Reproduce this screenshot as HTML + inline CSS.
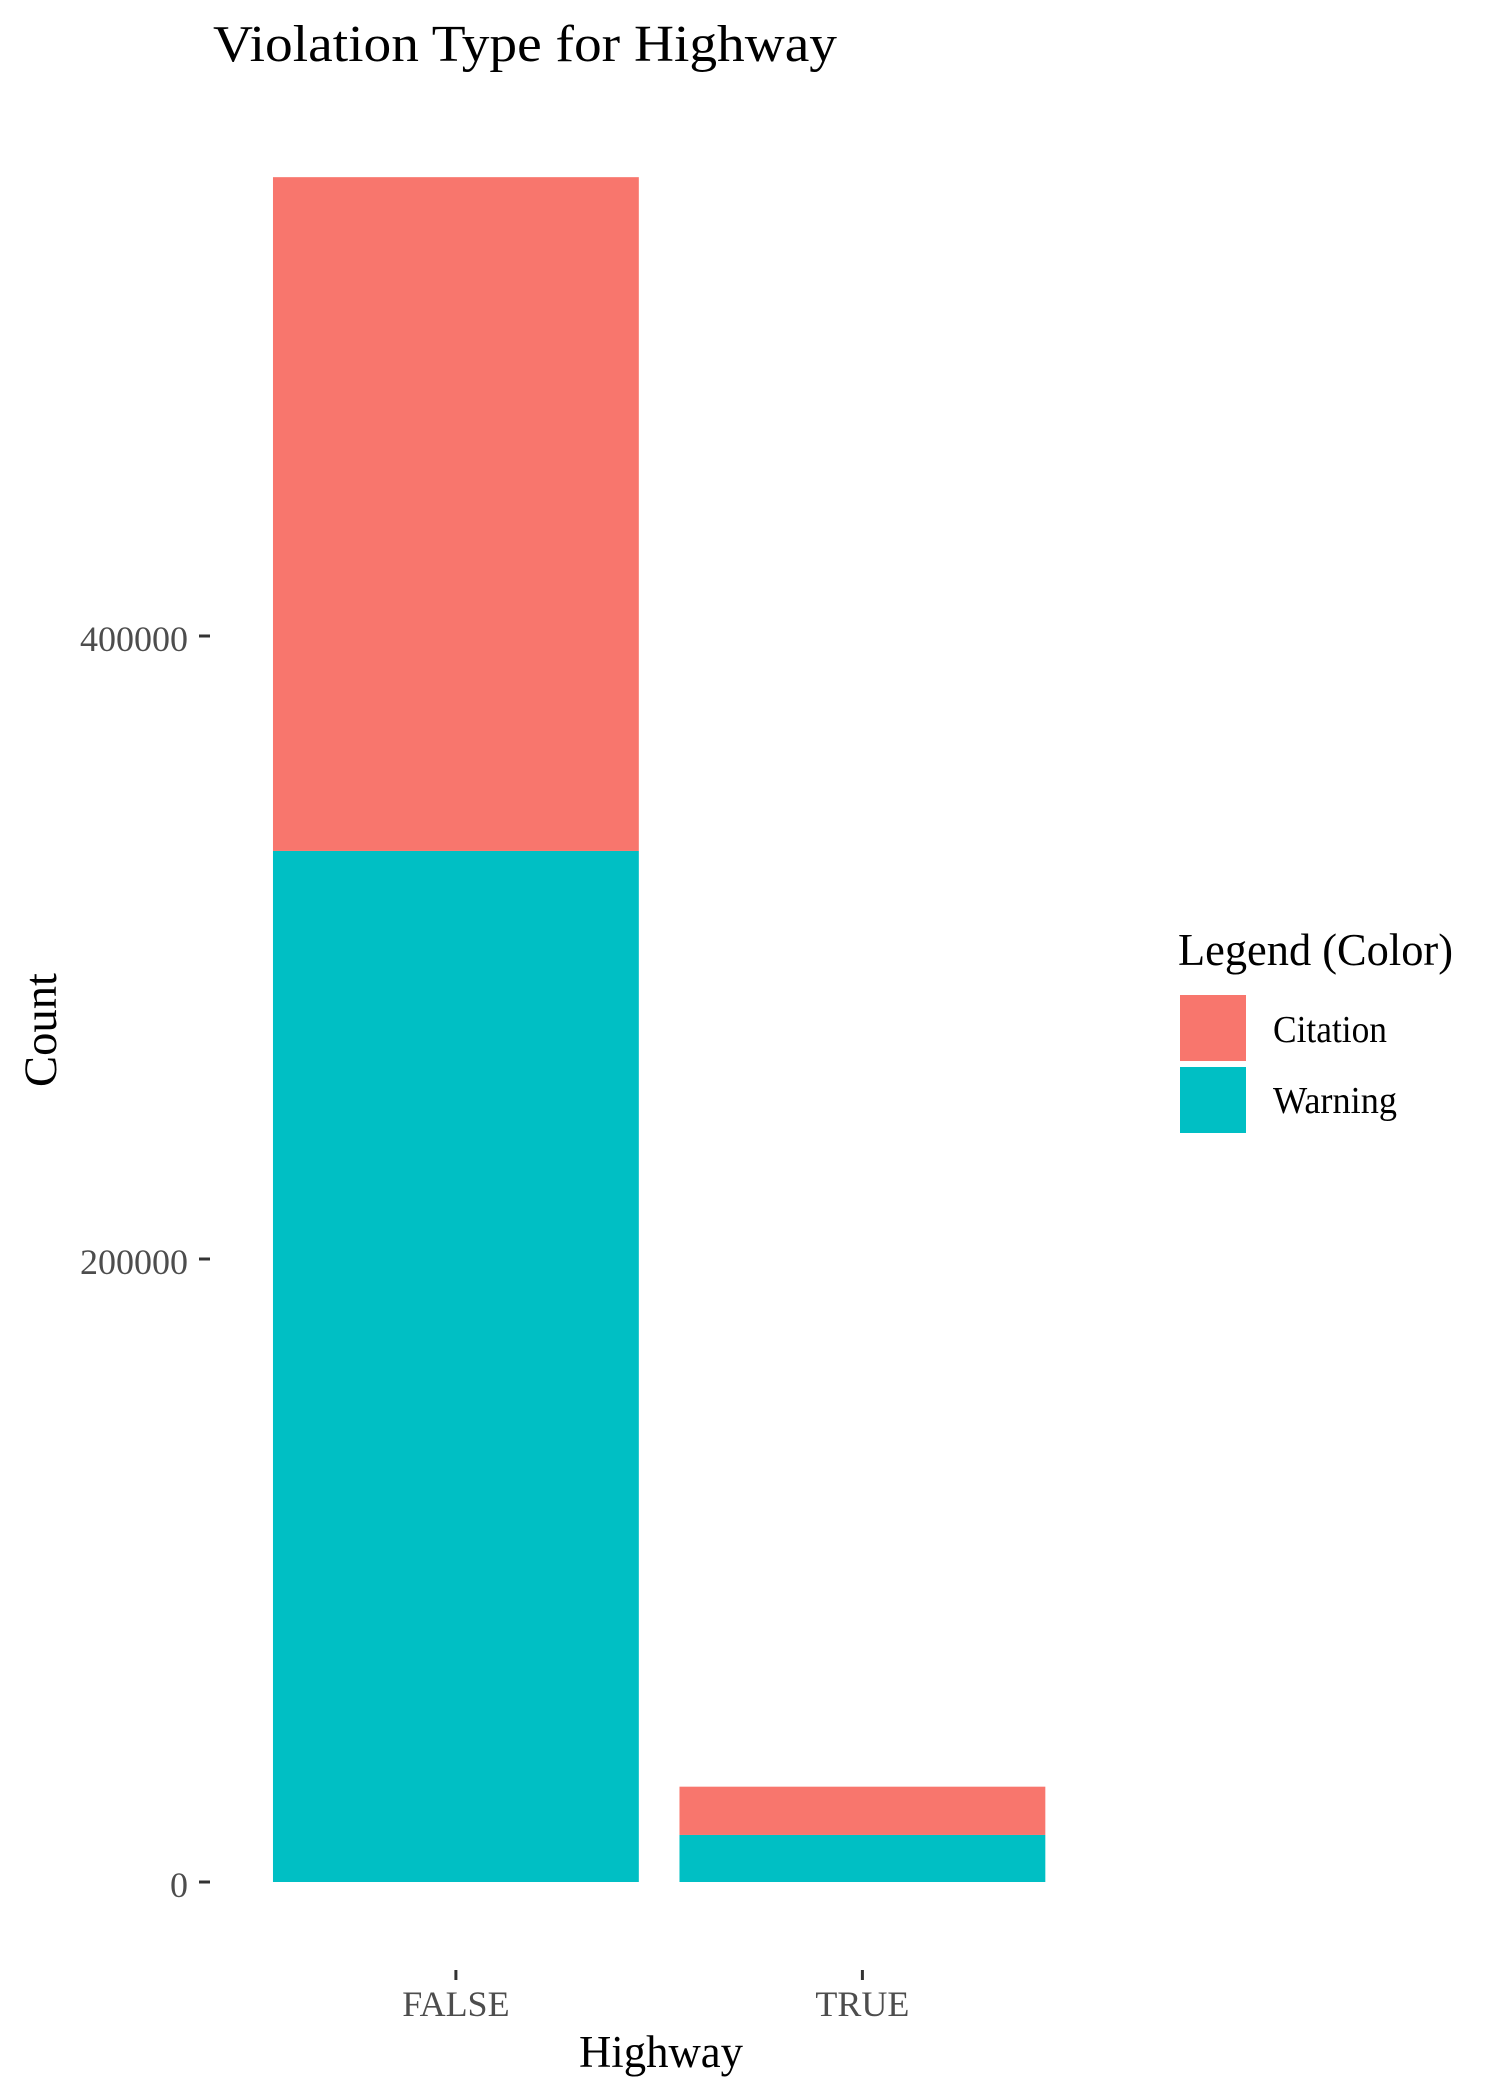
<!DOCTYPE html>
<html><head><meta charset="utf-8"><style>
body{margin:0;background:#fff}
svg{display:block;font-family:"Liberation Serif",serif}
</style></head><body>
<svg id="chart" width="1500" height="2100">
<text x="213" y="61" font-size="52" textLength="624" lengthAdjust="spacingAndGlyphs" fill="#000">Violation Type for Highway</text>
<g id="yaxis"></g>
<g id="xaxis"></g>
<g id="bars"></g>
<text transform="translate(56,1030) rotate(-90)" text-anchor="middle" font-size="47" textLength="114" lengthAdjust="spacingAndGlyphs">Count</text>
<text x="661" y="2067" text-anchor="middle" font-size="45" textLength="164" lengthAdjust="spacingAndGlyphs">Highway</text>
<g>
<text x="1178" y="965" font-size="45" textLength="275" lengthAdjust="spacingAndGlyphs">Legend (Color)</text>
<rect x="1180" y="995" width="66" height="66" fill="#F8766D"/>
<text x="1273" y="1042" font-size="38" textLength="114" lengthAdjust="spacingAndGlyphs">Citation</text>
<rect x="1180" y="1067" width="66" height="66" fill="#00BFC4"/>
<text x="1273" y="1113" font-size="38" textLength="124" lengthAdjust="spacingAndGlyphs">Warning</text>
</g>
</svg>
<script>
const categories=["FALSE","TRUE"];
const warning=[331000,15100];
const citation=[216300,15500];
const yTicks=[0,200000,400000];
const yTickLabels=["0","200000","400000"];
const ns="http://www.w3.org/2000/svg";
function y(v){return 1882-v*(623/200000);}
const band=406.5, x0=212;
function xc(i){return x0+band*0.6+i*band;}
function mk(tag,attrs,parent){const e=document.createElementNS(ns,tag);for(const k in attrs)e.setAttribute(k,attrs[k]);parent.appendChild(e);return e;}
const ya=document.getElementById('yaxis'),xa=document.getElementById('xaxis'),bg=document.getElementById('bars');
yTicks.forEach((t,i)=>{
 const l=mk('line',{x1:199,x2:210,y1:y(t),y2:y(t),stroke:'#333','stroke-width':3},ya);
 
 
 const tx=mk('text',{x:188,y:y(t)+15,'text-anchor':'end','font-size':36,fill:'#4d4d4d'},ya);
 tx.textContent=yTickLabels[i];
 
 
});
categories.forEach((c,i)=>{
 const cx=xc(i),w=band*0.9;
 const l=mk('line',{x1:cx,x2:cx,y1:1970,y2:1980,stroke:'#333','stroke-width':3},xa);
 
 
 const tx=mk('text',{x:cx,y:2016,'text-anchor':'middle','font-size':36,fill:'#4d4d4d'},xa);
 tx.textContent=c;
 
 
 const r1=mk('rect',{x:cx-w/2,width:w,y:y(warning[i]),height:y(0)-y(warning[i]),fill:'#00BFC4'},bg);
 
 
 const tot=warning[i]+citation[i];
 const r2=mk('rect',{x:cx-w/2,width:w,y:y(tot),height:y(warning[i])-y(tot),fill:'#F8766D'},bg);
 
 
});
</script>
</body></html>
